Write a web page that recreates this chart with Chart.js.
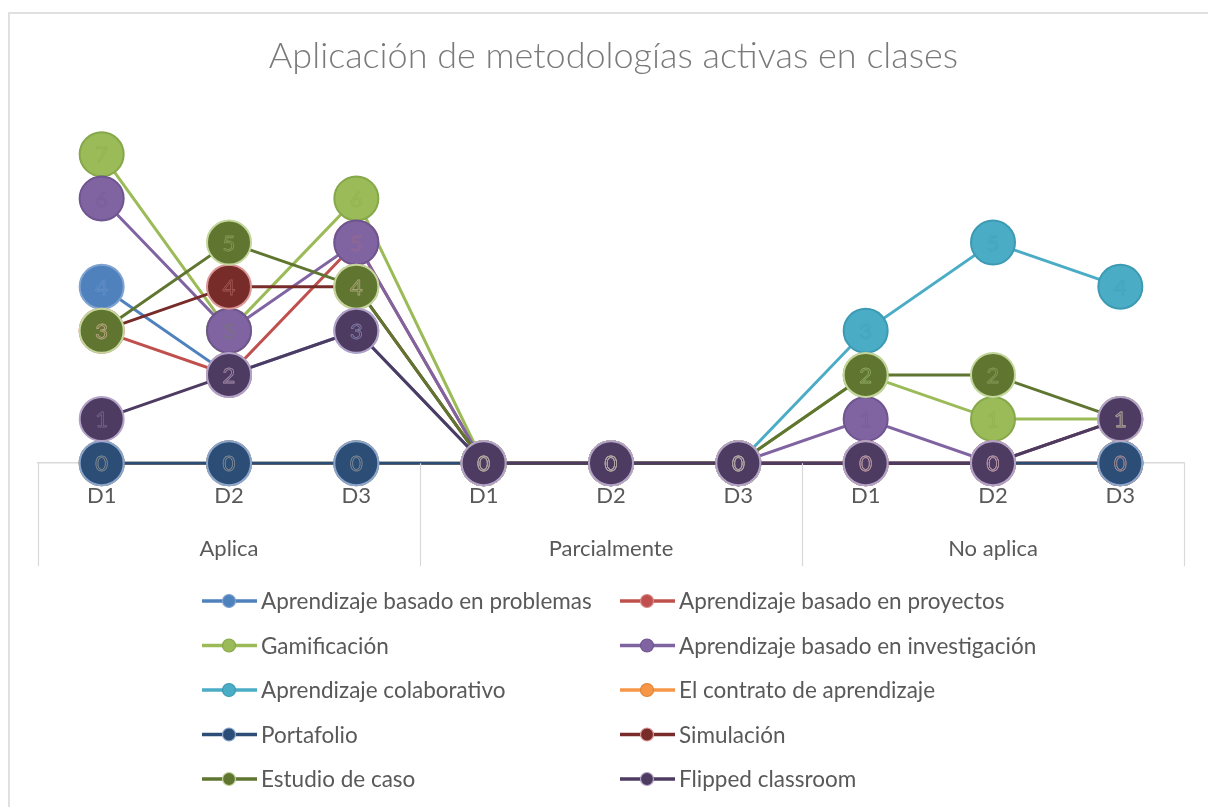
<html>
  <head>
    <title>Aplicación de metodologías activas en clases</title>
    <style>
      body {
        margin: 0;
        background: #fff;
      }
      .frame {
        position: absolute;
        left: 8px;
        top: 12px;
        width: 1300px;
        height: 900px;
        border: 2px solid #e0e0e0;
        pointer-events: none;
      }
      canvas {
        position: absolute;
        left: 0;
        top: 0;
      }
    </style>
  </head>
  <body>
    <canvas id="chart" width="1208" height="807"></canvas>
    <div class="frame"></div>

    <script src="https://cdn.jsdelivr.net/npm/chart.js@4"></script>
    <script type="text/javascript">
      const groups = ['Aplica', 'Parcialmente', 'No aplica'];
      const docentes = ['D1', 'D2', 'D3'];
      const labels = groups.flatMap(() => docentes);

      // one value per label: Aplica D1-D3, Parcialmente D1-D3, No aplica D1-D3
      const problemas = [4, 2, 3, 0, 0, 0, 0, 0, 0];
      const proyectos = [3, 2, 5, 0, 0, 0, 0, 0, 0];
      const gamificacion = [7, 3, 6, 0, 0, 0, 2, 1, 1];
      const investigacion = [6, 3, 5, 0, 0, 0, 1, 0, 0];
      const colaborativo = [0, 0, 0, 0, 0, 0, 3, 5, 4];
      const contrato = [0, 0, 0, 0, 0, 0, 0, 0, 0];
      const portafolio = [0, 0, 0, 0, 0, 0, 0, 0, 0];
      const simulacion = [3, 4, 4, 0, 0, 0, 0, 0, 1];
      const estudioCaso = [3, 5, 4, 0, 0, 0, 2, 2, 1];
      const flipped = [1, 2, 3, 0, 0, 0, 0, 0, 1];

      const series = [
        ['Aprendizaje basado en problemas', problemas, '#4f81bd', '#7fa3d0'],
        ['Aprendizaje basado en proyectos', proyectos, '#c0504d', '#d98b89'],
        ['Gamificación', gamificacion, '#9bbb59', '#86a84a'],
        ['Aprendizaje basado en investigación', investigacion, '#8064a2', '#6f5590'],
        ['Aprendizaje colaborativo', colaborativo, '#4bacc6', '#3d9ab3'],
        ['El contrato de aprendizaje', contrato, '#f79646', '#e0843a'],
        ['Portafolio', portafolio, '#2c4d75', '#8aa6cf'],
        ['Simulación', simulacion, '#772c2a', '#d99694'],
        ['Estudio de caso', estudioCaso, '#5f7530', '#c3d69b'],
        ['Flipped classroom', flipped, '#4d3b62', '#b3a2c7'],
      ];

      const FONT = 'Lato, "Open Sans", sans-serif';
      const GRID = '#d9d9d9';
      const TEXT = '#595959';

      // values written on the markers, faint outlines like the original
      const pointLabels = {
        id: 'pointLabels',
        afterDatasetsDraw(chart) {
          const { ctx } = chart;
          ctx.save();
          ctx.font = '22px ' + FONT;
          ctx.textAlign = 'center';
          ctx.textBaseline = 'middle';
          ctx.lineWidth = 0.8;
          ctx.globalAlpha = 0.4;
          chart.data.datasets.forEach((ds, i) => {
            chart.getDatasetMeta(i).data.forEach((pt, j) => {
              ctx.strokeStyle = ds.labelColor;
              ctx.strokeText(String(ds.data[j]), pt.x, pt.y + 1);
            });
          });
          ctx.restore();
        },
      };

      // vertical lines between the groups, taken from the category scale
      const groupLines = {
        id: 'groupLines',
        afterDraw(chart) {
          const { ctx, chartArea } = chart;
          const x = chart.scales.x;
          const step = x.getPixelForValue(1) - x.getPixelForValue(0);
          ctx.save();
          ctx.strokeStyle = GRID;
          ctx.lineWidth = 1.2;
          for (let b = 0; b <= labels.length; b += docentes.length) {
            const px = Math.round(x.getPixelForValue(b) - step / 2) + 0.5;
            ctx.beginPath();
            ctx.moveTo(px, chartArea.bottom);
            ctx.lineTo(px, chartArea.bottom + 103);
            ctx.stroke();
          }
          ctx.restore();
        },
      };

      // two-column legend in the space under the axis
      const gridLegend = {
        id: 'gridLegend',
        afterDraw(chart) {
          const { ctx } = chart;
          const cols = [229, 647];
          const top = 601;
          const rowH = 44.5;
          ctx.save();
          ctx.font = '22.5px ' + FONT;
          ctx.textBaseline = 'middle';
          chart.data.datasets.forEach((ds, i) => {
            const cx = cols[i % 2];
            const cy = top + Math.floor(i / 2) * rowH;
            ctx.strokeStyle = ds.borderColor;
            ctx.lineWidth = 3.5;
            ctx.beginPath();
            ctx.moveTo(cx - 27, cy);
            ctx.lineTo(cx + 28, cy);
            ctx.stroke();
            ctx.beginPath();
            ctx.arc(cx, cy, 6.5, 0, Math.PI * 2);
            ctx.fillStyle = ds.pointBackgroundColor;
            ctx.fill();
            ctx.lineWidth = 1.2;
            ctx.strokeStyle = ds.pointBorderColor;
            ctx.stroke();
            ctx.fillStyle = TEXT;
            ctx.fillText(ds.label, cx + 32, cy + 1);
          });
          ctx.restore();
        },
      };

      new Chart(document.getElementById('chart'), {
        type: 'line',
        data: {
          labels: labels,
          datasets: series.map(([name, values, color, edge], i) => ({
            label: name,
            data: values,
            borderColor: color,
            borderWidth: 3,
            pointRadius: 22,
            pointBorderWidth: 2,
            pointBackgroundColor: color,
            pointBorderColor: edge,
            labelColor: edge,
            tension: 0,
            clip: false,
            order: series.length - i,
          })),
        },
        options: {
          responsive: false,
          animation: false,
          events: [],
          layout: { padding: { left: 38, right: 19, top: 0, bottom: 239 } },
          plugins: {
            legend: { display: false },
            tooltip: { enabled: false },
            title: {
              display: true,
              text: 'Aplicación de metodologías activas en clases',
              color: '#7a7a7a',
              font: { family: FONT, size: 36, weight: 300 },
              padding: { top: 35, bottom: 32 },
            },
          },
          scales: {
            y: { display: false, min: 0, max: 8 },
            x: {
              position: 'bottom',
              weight: 0,
              offset: true,
              border: { display: true, color: GRID, width: 1.5 },
              grid: { display: false, drawTicks: false },
              ticks: {
                padding: 20,
                autoSkip: false,
                maxRotation: 0,
                color: TEXT,
                font: { family: FONT, size: 22 },
              },
            },
            grupos: {
              type: 'category',
              position: 'bottom',
              weight: 1,
              labels: groups,
              offset: true,
              border: { display: false },
              grid: { display: false, drawTicks: false },
              ticks: {
                padding: 6,
                autoSkip: false,
                maxRotation: 0,
                color: TEXT,
                font: { family: FONT, size: 22 },
              },
            },
          },
        },
        plugins: [pointLabels, groupLines, gridLegend],
      });
    </script>
  </body>
</html>
